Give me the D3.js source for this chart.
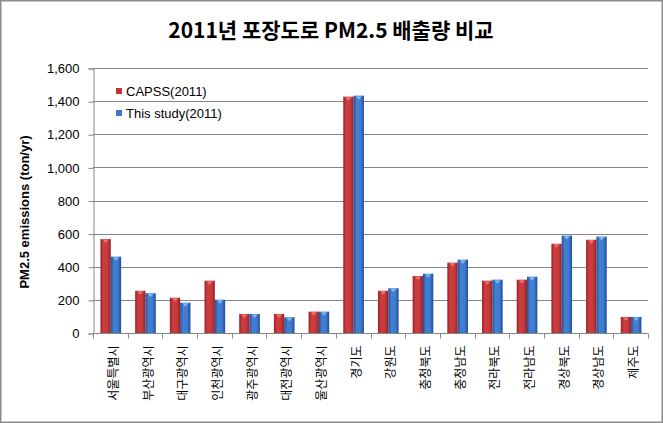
<!DOCTYPE html>
<html>
<head>
<meta charset="utf-8">
<script src="https://cdn.jsdelivr.net/npm/d3@7"></script>
<style>
  html, body { margin: 0; padding: 0; background: #fff; }
  svg { display: block; font-family: "Liberation Sans", Arial, "Noto Sans CJK KR", sans-serif; }
</style>
</head>
<body>
<div id="chart"></div>
<script>
// data
const regions = ["서울특별시", "부산광역시", "대구광역시", "인천광역시", "광주광역시", "대전광역시", "울산광역시",
    "경기도", "강원도", "충청북도", "충청남도", "전라북도", "전라남도", "경상북도", "경상남도", "제주도"];
const capss = [567, 255, 213, 316, 115, 115, 129, 1427, 255, 344, 425, 316, 322, 539, 563, 97];
const thisStudy = [461, 240, 183, 201, 115, 95, 129, 1433, 270, 358, 443, 322, 340, 588, 582, 97];
const seriesNames = ["CAPSS(2011)", "This study(2011)"];
const yTicks = [0, 200, 400, 600, 800, 1000, 1200, 1400, 1600];

const width = 663, height = 423;
const margin = { top: 68, right: 15, bottom: 90, left: 93 };

const svg = d3.select("#chart").append("svg")
    .attr("width", width)
    .attr("height", height);

svg.append("rect")
    .attr("x", 0.75).attr("y", 0.75)
    .attr("width", width - 1.5).attr("height", height - 1.5)
    .attr("fill", "#fff")
    .attr("stroke", "#8c8c8c")
    .attr("stroke-width", 1.5);

// gradients for the bevelled bars
const defs = svg.append("defs");
function makeGrad(id, stops) {
    const g = defs.append("linearGradient").attr("id", id)
        .attr("x1", "0%").attr("x2", "100%").attr("y1", "0%").attr("y2", "0%");
    stops.forEach(s => g.append("stop").attr("offset", s[0]).attr("stop-color", s[1]));
}
makeGrad("gradRed", [["0%", "#9c2224"], ["30%", "#cc3e40"], ["70%", "#c6393b"], ["100%", "#961f21"]]);
makeGrad("gradBlue", [["0%", "#20509a"], ["30%", "#4580d2"], ["70%", "#3e7acd"], ["100%", "#1e4c96"]]);
const fills = ["url(#gradRed)", "url(#gradBlue)"];
const tips = ["#f07c7c", "#8cc1f5"];
const legendFills = ["#c93537", "#3f78c8"];

const x = d3.scaleBand()
    .domain(regions)
    .range([margin.left, width - margin.right])
    .padding(0);

const inner = d3.scaleBand()
    .domain([0, 1])
    .range([x.bandwidth() * 0.215, x.bandwidth() * 0.81])
    .padding(0);

const y = d3.scaleLinear()
    .domain([0, 1600])
    .range([height - margin.bottom, margin.top]);

// title
svg.append("text")
    .attr("x", 331)
    .attr("y", 38)
    .attr("text-anchor", "middle")
    .attr("font-family", "'Noto Sans CJK KR', 'Liberation Sans', sans-serif")
    .attr("font-weight", "bold")
    .attr("font-size", 21)
    .attr("fill", "#000")
    .text("2011년 포장도로 PM2.5 배출량 비교");

// gridlines
svg.append("g")
    .selectAll("line")
    .data(yTicks.slice(1))
    .join("line")
    .attr("x1", margin.left)
    .attr("x2", width - margin.right)
    .attr("y1", d => Math.round(y(d)) + 0.5)
    .attr("y2", d => Math.round(y(d)) + 0.5)
    .attr("stroke", "#868686")
    .attr("stroke-width", 1);

// y axis
const yAxis = svg.append("g")
    .attr("transform", `translate(${margin.left + 0.5},0.5)`)
    .call(d3.axisLeft(y).tickValues(yTicks).tickSize(5).tickPadding(9).tickFormat(d3.format(",")));
yAxis.select(".domain").attr("stroke", "#868686");
yAxis.selectAll(".tick line").attr("stroke", "#868686");
yAxis.selectAll(".tick text")
    .attr("font-size", 13)
    .attr("font-family", "'Liberation Sans', Arial, sans-serif")
    .attr("fill", "#000");

svg.append("text")
    .attr("transform", `translate(29,${212}) rotate(-90)`)
    .attr("text-anchor", "middle")
    .attr("font-weight", "bold")
    .attr("font-size", 13)
    .attr("fill", "#000")
    .text("PM2.5 emissions (ton/yr)");

// bars
const series = [capss, thisStudy];
series.forEach((vals, si) => {
    const g = svg.append("g");
    g.selectAll("rect")
        .data(vals)
        .join("rect")
        .attr("x", (d, i) => x(regions[i]) + inner(si))
        .attr("width", inner.bandwidth())
        .attr("y", d => y(d))
        .attr("height", d => y(0) - y(d))
        .attr("fill", fills[si]);
    // small light notch on top of each bar
    g.selectAll("path")
        .data(vals)
        .join("path")
        .attr("d", (d, i) => {
            const x0 = x(regions[i]) + inner(si);
            const w = inner.bandwidth();
            const top = y(d);
            return `M${x0 + w * 0.2},${top + 0.5} L${x0 + w * 0.8},${top + 0.5} L${x0 + w * 0.5},${top + 4} Z`;
        })
        .attr("fill", tips[si])
        .attr("opacity", 0.85);
});

// x axis
const xAxisG = svg.append("g")
    .attr("transform", `translate(0,${Math.round(y(0)) + 0.5})`);
xAxisG.append("line")
    .attr("x1", margin.left).attr("x2", width - margin.right)
    .attr("stroke", "#868686");
xAxisG.selectAll("line.tick")
    .data(regions.concat(["end"]))
    .join("line")
    .attr("class", "tick")
    .attr("x1", (d, i) => Math.round(i < regions.length ? x(d) : x.range()[1]) + 0.5)
    .attr("x2", (d, i) => Math.round(i < regions.length ? x(d) : x.range()[1]) + 0.5)
    .attr("y1", 0).attr("y2", 5)
    .attr("stroke", "#868686");

xAxisG.selectAll("text")
    .data(regions)
    .join("text")
    .attr("transform", d => `translate(${x(d) + x.bandwidth() / 2 + 2},12) rotate(-90)`)
    .attr("text-anchor", "end")
    .attr("dominant-baseline", "central")
    .attr("font-family", "'Noto Sans CJK KR', sans-serif")
    .attr("font-size", 12)
    .attr("fill", "#000")
    .text(d => d);

// legend
const legend = svg.append("g").attr("transform", "translate(116,91)");
seriesNames.forEach((name, i) => {
    const row = legend.append("g").attr("transform", `translate(0,${i * 22})`);
    row.append("rect")
        .attr("x", 0).attr("y", -3)
        .attr("width", 6).attr("height", 6)
        .attr("fill", legendFills[i]);
    row.append("text")
        .attr("x", 10)
        .attr("y", 0)
        .attr("dominant-baseline", "central")
        .attr("font-size", 13)
        .attr("font-family", "'Liberation Sans', Arial, sans-serif")
        .attr("fill", "#000")
        .text(name);
});
</script>
</body>
</html>
